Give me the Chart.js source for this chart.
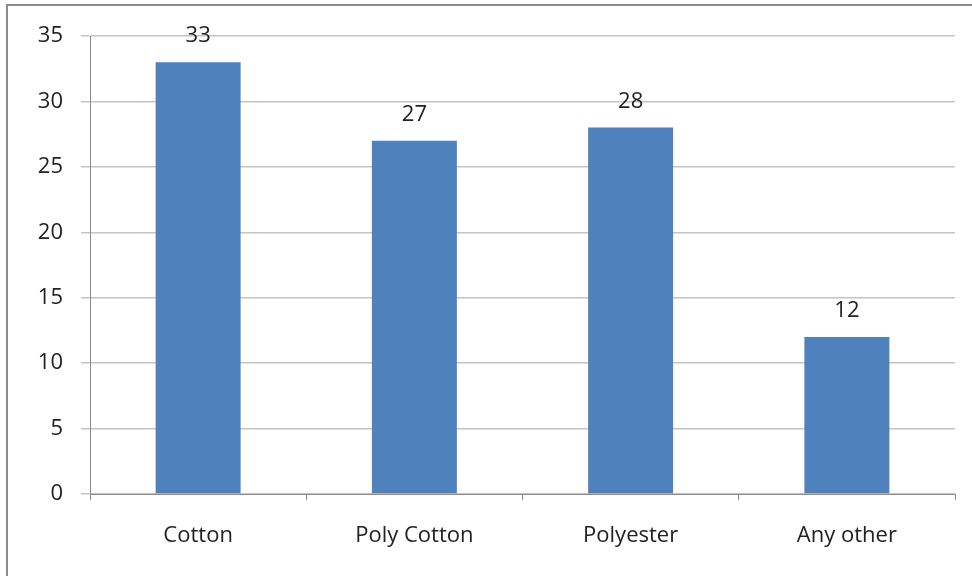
<!DOCTYPE html>
<html><head><meta charset="utf-8">
<script src="https://cdn.jsdelivr.net/npm/chart.js@4/dist/chart.umd.min.js"></script>
<style>html,body{margin:0;padding:0;background:#fff;}#wrap{position:absolute;left:0;top:0;width:972px;height:576px;}</style>
</head><body><div id="wrap"><canvas id="c" width="972" height="576"></canvas></div>
<script>
const categories = ["Cotton", "Poly Cotton", "Polyester", "Any other"];
const values = [33, 27, 28, 12];
const yTicks = [0, 5, 10, 15, 20, 25, 30, 35];

const FONT = "'Open Sans', 'Liberation Sans', sans-serif";

const framePlugin = {
  id: 'frame',
  beforeDraw(chart) {
    const ctx = chart.ctx;
    ctx.save();
    ctx.strokeStyle = '#8c8c8c';
    ctx.lineWidth = 2;
    ctx.beginPath();
    ctx.moveTo(7, 576);
    ctx.lineTo(7, 5);
    ctx.lineTo(972, 5);
    ctx.stroke();
    ctx.restore();
  }
};

const valueLabels = {
  id: 'valueLabels',
  afterDatasetsDraw(chart) {
    const ctx = chart.ctx;
    const meta = chart.getDatasetMeta(0);
    ctx.save();
    ctx.font = '22px ' + FONT;
    ctx.fillStyle = '#222';
    ctx.textAlign = 'center';
    ctx.textBaseline = 'middle';
    meta.data.forEach((bar, i) => {
      ctx.fillText(String(values[i]), bar.x, bar.y - 26);
    });
    ctx.restore();
  }
};

new Chart(document.getElementById('c'), {
  type: 'bar',
  data: {
    labels: categories,
    datasets: [{
      data: values,
      backgroundColor: '#4F81BD',
      borderWidth: 0,
      barPercentage: 0.393,
      categoryPercentage: 1.0
    }]
  },
  options: {
    responsive: false,
    animation: false,
    devicePixelRatio: 1,
    layout: { padding: { left: 0, top: 36, right: 17, bottom: 0 } },
    plugins: { legend: { display: false }, tooltip: { enabled: false } },
    scales: {
      x: {
        grid: { display: true, drawOnChartArea: false, drawTicks: true, tickLength: 6, color: '#8c8c8c', offset: true },
        border: { display: true, color: '#8c8c8c', width: 1 },
        ticks: { font: { size: 22, family: FONT }, color: '#222', padding: 23 },
        afterFit(s) { s.height = 82; }
      },
      y: {
        min: 0, max: 35,
        afterBuildTicks(s) { s.ticks = yTicks.map(v => ({ value: v })); },
        grid: { color: '#c4c4c4', lineWidth: 1.5, tickLength: 9, drawTicks: true },
        border: { display: true, color: '#8c8c8c', width: 1 },
        ticks: { font: { size: 22, family: FONT }, color: '#222', padding: 18 },
        afterFit(s) { s.width = 90; }
      }
    }
  },
  plugins: [framePlugin, valueLabels]
});
</script></body></html>
